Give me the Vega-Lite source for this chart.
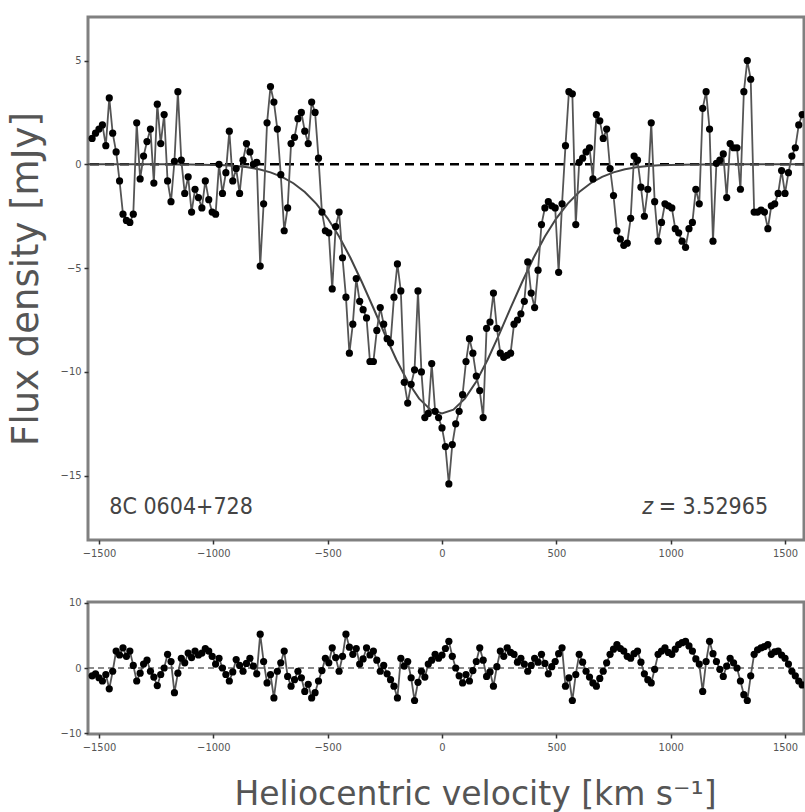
{
  "$schema": "https://vega.github.io/schema/vega-lite/v6.json",
  "padding": {"left": 5, "top": 15, "right": 0, "bottom": 0},
  "background": "white",
  "spacing": 35,
  "config": {
    "view": {"stroke": "#808080", "strokeWidth": 3},
    "axis": {
      "domain": false, "grid": false, "tickColor": "#333", "tickSize": 4, "tickWidth": 1.5,
      "labelFont": "DejaVu Sans Condensed, Liberation Sans Narrow, DejaVu Sans",
      "labelFontSize": 11, "labelColor": "#555", "labelPadding": 3, "format": "d",
      "titleFont": "DejaVu Sans", "titleFontWeight": "normal", "titleColor": "#555"
    }
  },
  "datasets": {
    "spec": [
      {"v":-1530,"f":1.25,"r":-1.2},{"v":-1515,"f":1.5,"r":-0.9},{"v":-1500,"f":1.7,"r":-1.5},{"v":-1485,"f":1.9,"r":-2.0},
      {"v":-1470,"f":0.9,"r":-1.0},{"v":-1455,"f":3.2,"r":-3.2},{"v":-1440,"f":1.5,"r":-0.5},{"v":-1425,"f":0.6,"r":2.6},
      {"v":-1410,"f":-0.8,"r":2.0},{"v":-1395,"f":-2.4,"r":3.1},{"v":-1380,"f":-2.7,"r":1.8},{"v":-1365,"f":-2.8,"r":2.6},
      {"v":-1350,"f":-2.4,"r":0.4},{"v":-1335,"f":2.0,"r":-2.0},{"v":-1320,"f":-0.7,"r":-0.8},{"v":-1305,"f":0.4,"r":0.6},
      {"v":-1290,"f":1.1,"r":1.2},{"v":-1275,"f":1.7,"r":-0.5},{"v":-1260,"f":-0.9,"r":-1.4},{"v":-1245,"f":2.9,"r":-2.7},
      {"v":-1230,"f":1.0,"r":-1.0},{"v":-1215,"f":2.4,"r":0.0},{"v":-1200,"f":-0.8,"r":2.1},{"v":-1185,"f":-1.8,"r":1.0},
      {"v":-1170,"f":0.15,"r":-3.8},{"v":-1155,"f":3.5,"r":-0.8},{"v":-1140,"f":0.2,"r":1.5},{"v":-1125,"f":-1.4,"r":0.8},
      {"v":-1110,"f":-0.6,"r":2.3},{"v":-1095,"f":-2.3,"r":1.6},{"v":-1080,"f":-1.2,"r":2.6},{"v":-1065,"f":-1.6,"r":2.0},
      {"v":-1050,"f":-2.1,"r":2.3},{"v":-1035,"f":-0.8,"r":3.0},{"v":-1020,"f":-1.7,"r":2.6},{"v":-1005,"f":-2.3,"r":1.8},
      {"v":-990,"f":-2.4,"r":0.6},{"v":-975,"f":0.0,"r":1.5},{"v":-960,"f":-1.4,"r":0.0},{"v":-945,"f":-0.4,"r":-1.0},
      {"v":-930,"f":1.6,"r":-2.0},{"v":-915,"f":-0.8,"r":-0.6},{"v":-900,"f":-0.2,"r":1.3},{"v":-885,"f":-1.4,"r":0.4},
      {"v":-870,"f":0.2,"r":-0.5},{"v":-855,"f":1.0,"r":0.7},{"v":-840,"f":0.6,"r":1.5},{"v":-825,"f":0.0,"r":0.3},
      {"v":-810,"f":0.1,"r":-0.9},{"v":-795,"f":-4.9,"r":5.2},{"v":-780,"f":-1.9,"r":1.0},{"v":-765,"f":2.0,"r":-2.3},
      {"v":-750,"f":3.75,"r":-1.0},{"v":-735,"f":3.0,"r":-4.6},{"v":-720,"f":1.7,"r":-0.5},{"v":-705,"f":-0.5,"r":0.8},
      {"v":-690,"f":-3.2,"r":2.6},{"v":-675,"f":-2.1,"r":-1.3},{"v":-660,"f":1.0,"r":-2.8},{"v":-645,"f":1.3,"r":-1.8},
      {"v":-630,"f":2.2,"r":-0.5},{"v":-615,"f":2.5,"r":-1.5},{"v":-600,"f":1.6,"r":-3.6},{"v":-585,"f":1.0,"r":-2.5},
      {"v":-570,"f":3.0,"r":-4.6},{"v":-555,"f":2.5,"r":-3.8},{"v":-540,"f":0.3,"r":-2.0},{"v":-525,"f":-2.3,"r":-0.4},
      {"v":-510,"f":-3.2,"r":1.5},{"v":-495,"f":-3.3,"r":0.8},{"v":-480,"f":-6.0,"r":3.1},{"v":-465,"f":-3.0,"r":1.6},
      {"v":-450,"f":-2.3,"r":-0.5},{"v":-435,"f":-4.5,"r":1.8},{"v":-420,"f":-6.4,"r":5.2},{"v":-405,"f":-9.1,"r":3.2},
      {"v":-390,"f":-7.7,"r":2.1},{"v":-375,"f":-5.5,"r":3.0},{"v":-360,"f":-6.6,"r":0.6},{"v":-345,"f":-7.0,"r":1.4},
      {"v":-330,"f":-7.4,"r":3.1},{"v":-315,"f":-9.5,"r":2.0},{"v":-300,"f":-9.5,"r":2.6},{"v":-285,"f":-8.0,"r":1.2},
      {"v":-270,"f":-6.9,"r":-0.5},{"v":-255,"f":-7.7,"r":0.4},{"v":-240,"f":-8.4,"r":-0.9},{"v":-225,"f":-8.6,"r":-1.8},
      {"v":-210,"f":-6.4,"r":-2.8},{"v":-195,"f":-4.8,"r":-4.6},{"v":-180,"f":-6.1,"r":1.5},{"v":-165,"f":-10.5,"r":0.3},
      {"v":-150,"f":-11.5,"r":1.0},{"v":-135,"f":-10.6,"r":-1.5},{"v":-120,"f":-9.9,"r":-5.0},{"v":-105,"f":-6.1,"r":-2.2},
      {"v":-90,"f":-10.0,"r":-0.5},{"v":-75,"f":-12.2,"r":-1.4},{"v":-60,"f":-12.0,"r":0.6},{"v":-45,"f":-9.6,"r":1.2},
      {"v":-30,"f":-11.9,"r":2.1},{"v":-15,"f":-12.2,"r":1.5},{"v":0,"f":-12.7,"r":2.0},{"v":15,"f":-13.6,"r":3.0},
      {"v":30,"f":-15.4,"r":4.1},{"v":45,"f":-13.5,"r":1.8},{"v":60,"f":-12.5,"r":0.0},{"v":75,"f":-11.9,"r":-1.2},
      {"v":90,"f":-11.1,"r":-2.3},{"v":105,"f":-9.5,"r":-1.0},{"v":120,"f":-8.4,"r":-2.0},{"v":135,"f":-9.1,"r":-0.4},
      {"v":150,"f":-10.2,"r":1.0},{"v":165,"f":-10.9,"r":3.1},{"v":180,"f":-12.2,"r":1.2},{"v":195,"f":-7.9,"r":-1.3},
      {"v":210,"f":-7.6,"r":-0.6},{"v":225,"f":-6.2,"r":-2.8},{"v":240,"f":-7.9,"r":0.2},{"v":255,"f":-9.1,"r":2.6},
      {"v":270,"f":-9.3,"r":1.8},{"v":285,"f":-9.2,"r":3.1},{"v":300,"f":-9.1,"r":2.4},{"v":315,"f":-7.7,"r":2.1},
      {"v":330,"f":-7.5,"r":0.9},{"v":345,"f":-7.2,"r":1.5},{"v":360,"f":-6.6,"r":0.6},{"v":375,"f":-4.7,"r":-0.5},
      {"v":390,"f":-6.2,"r":0.4},{"v":405,"f":-6.9,"r":1.5},{"v":420,"f":-5.1,"r":0.9},{"v":435,"f":-2.9,"r":2.1},
      {"v":450,"f":-2.1,"r":0.7},{"v":465,"f":-1.8,"r":-0.9},{"v":480,"f":-2.0,"r":0.2},{"v":495,"f":-2.1,"r":1.0},
      {"v":510,"f":-5.2,"r":2.2},{"v":525,"f":-1.9,"r":3.1},{"v":540,"f":0.9,"r":-2.8},{"v":555,"f":3.5,"r":-1.5},
      {"v":570,"f":3.4,"r":-5.0},{"v":585,"f":-2.9,"r":-1.0},{"v":600,"f":0.1,"r":2.1},{"v":615,"f":0.3,"r":0.9},
      {"v":630,"f":0.6,"r":-0.5},{"v":645,"f":0.8,"r":-1.4},{"v":660,"f":-0.7,"r":-2.3},{"v":675,"f":2.4,"r":-2.8},
      {"v":690,"f":2.1,"r":-1.6},{"v":705,"f":1.25,"r":-0.5},{"v":720,"f":1.7,"r":0.8},{"v":735,"f":-0.2,"r":2.1},
      {"v":750,"f":-1.5,"r":2.9},{"v":765,"f":-3.2,"r":3.6},{"v":780,"f":-3.6,"r":3.0},{"v":795,"f":-3.9,"r":2.6},
      {"v":810,"f":-3.8,"r":1.8},{"v":825,"f":-2.6,"r":1.5},{"v":840,"f":0.4,"r":2.2},{"v":855,"f":0.2,"r":2.6},
      {"v":870,"f":-1.1,"r":0.9},{"v":885,"f":-2.5,"r":-0.9},{"v":900,"f":-1.2,"r":-1.8},{"v":915,"f":2.0,"r":-2.3},
      {"v":930,"f":-1.8,"r":-0.2},{"v":945,"f":-3.7,"r":2.1},{"v":960,"f":-2.8,"r":2.6},{"v":975,"f":-1.9,"r":3.1},
      {"v":990,"f":-2.0,"r":2.4},{"v":1005,"f":-2.1,"r":2.1},{"v":1020,"f":-3.1,"r":2.9},{"v":1035,"f":-3.3,"r":3.6},
      {"v":1050,"f":-3.7,"r":3.9},{"v":1065,"f":-4.0,"r":4.1},{"v":1080,"f":-3.1,"r":3.4},{"v":1095,"f":-2.8,"r":2.6},
      {"v":1110,"f":-1.2,"r":1.4},{"v":1125,"f":-1.9,"r":0.6},{"v":1140,"f":2.7,"r":-3.6},{"v":1155,"f":3.5,"r":1.0},
      {"v":1170,"f":1.7,"r":4.1},{"v":1185,"f":-3.7,"r":2.2},{"v":1200,"f":0.05,"r":1.0},{"v":1215,"f":0.2,"r":-0.2},
      {"v":1230,"f":0.5,"r":-1.3},{"v":1245,"f":-1.6,"r":0.3},{"v":1260,"f":1.0,"r":1.5},{"v":1275,"f":0.8,"r":0.8},
      {"v":1290,"f":0.8,"r":0.0},{"v":1305,"f":-1.2,"r":-2.0},{"v":1320,"f":3.5,"r":-4.1},{"v":1335,"f":5.0,"r":-5.0},
      {"v":1350,"f":4.1,"r":-1.2},{"v":1365,"f":-2.3,"r":2.1},{"v":1380,"f":-2.3,"r":2.8},{"v":1395,"f":-2.2,"r":3.1},
      {"v":1410,"f":-2.3,"r":3.3},{"v":1425,"f":-3.1,"r":3.6},{"v":1440,"f":-2.0,"r":2.1},{"v":1455,"f":-1.9,"r":2.5},
      {"v":1470,"f":-1.4,"r":2.6},{"v":1485,"f":-0.3,"r":2.0},{"v":1500,"f":-1.4,"r":1.5},{"v":1515,"f":-0.4,"r":0.6},
      {"v":1530,"f":0.4,"r":-0.5},{"v":1545,"f":0.8,"r":-1.2},{"v":1560,"f":1.9,"r":-2.0},{"v":1575,"f":2.4,"r":-2.6}
    ],
    "model": [
      {"v":-1550,"m":0},{"v":-1500,"m":0},{"v":-1450,"m":0},{"v":-1400,"m":0},{"v":-1350,"m":0},{"v":-1300,"m":0},
      {"v":-1250,"m":0},{"v":-1200,"m":0},{"v":-1150,"m":-0.003},{"v":-1100,"m":-0.007},{"v":-1050,"m":-0.014},
      {"v":-1000,"m":-0.03},{"v":-950,"m":-0.048},{"v":-900,"m":-0.085},{"v":-850,"m":-0.145},{"v":-800,"m":-0.24},
      {"v":-750,"m":-0.385},{"v":-700,"m":-0.6},{"v":-650,"m":-0.91},{"v":-600,"m":-1.33},{"v":-550,"m":-1.89},
      {"v":-500,"m":-2.6},{"v":-450,"m":-3.48},{"v":-400,"m":-4.51},{"v":-350,"m":-5.68},{"v":-300,"m":-6.92},
      {"v":-250,"m":-8.19},{"v":-200,"m":-9.4},{"v":-150,"m":-10.46},{"v":-100,"m":-11.29},{"v":-50,"m":-11.82},
      {"v":0,"m":-12.0},
      {"v":50,"m":-11.82},{"v":100,"m":-11.29},{"v":150,"m":-10.46},{"v":200,"m":-9.4},{"v":250,"m":-8.19},
      {"v":300,"m":-6.92},{"v":350,"m":-5.68},{"v":400,"m":-4.51},{"v":450,"m":-3.48},{"v":500,"m":-2.6},
      {"v":550,"m":-1.89},{"v":600,"m":-1.33},{"v":650,"m":-0.91},{"v":700,"m":-0.6},{"v":750,"m":-0.385},
      {"v":800,"m":-0.24},{"v":850,"m":-0.145},{"v":900,"m":-0.085},{"v":950,"m":-0.048},{"v":1000,"m":-0.03},
      {"v":1050,"m":-0.014},{"v":1100,"m":-0.007},{"v":1150,"m":-0.003},{"v":1200,"m":0},{"v":1250,"m":0},
      {"v":1300,"m":0},{"v":1350,"m":0},{"v":1400,"m":0},{"v":1450,"m":0},{"v":1500,"m":0},{"v":1550,"m":0},{"v":1600,"m":0}
    ]
  },
  "vconcat": [
    {
      "width": 716,
      "height": 523,
      "encoding": {
        "x": {"type": "quantitative", "scale": {"domain": [-1548, 1583], "nice": false, "zero": false},
              "axis": {"values": [-1500, -1000, -500, 0, 500, 1000, 1500], "title": null}},
        "y": {"type": "quantitative", "scale": {"domain": [-18.1, 7.1], "nice": false, "zero": false},
              "axis": {"values": [-15, -10, -5, 0, 5], "title": "Flux density [mJy]", "titleFontSize": 37, "titlePadding": 15}}
      },
      "layer": [
        {
          "data": {"values": [{}]},
          "mark": {"type": "rule", "color": "black", "strokeWidth": 2.5, "strokeDash": [9, 6]},
          "encoding": {"y": {"datum": 0, "type": "quantitative"}}
        },
        {
          "data": {"name": "model"},
          "mark": {"type": "line", "color": "#444", "strokeWidth": 2, "clip": true},
          "encoding": {"x": {"field": "v"}, "y": {"field": "m"}}
        },
        {
          "data": {"name": "spec"},
          "mark": {"type": "line", "color": "#555", "strokeWidth": 1.8, "clip": true},
          "encoding": {"x": {"field": "v"}, "y": {"field": "f"}}
        },
        {
          "data": {"name": "spec"},
          "mark": {"type": "circle", "color": "black", "size": 52, "opacity": 1, "clip": true},
          "encoding": {"x": {"field": "v"}, "y": {"field": "f"}}
        },
        {
          "data": {"values": [{}]},
          "mark": {"type": "text", "text": "8C 0604+728", "align": "left", "baseline": "middle", "fontSize": 23, "color": "#444",
                   "font": "DejaVu Sans Condensed, Liberation Sans Narrow, DejaVu Sans"},
          "encoding": {"x": {"datum": -1455, "type": "quantitative"}, "y": {"datum": -16.5, "type": "quantitative"}}
        },
        {
          "data": {"values": [{}]},
          "mark": {"type": "text", "text": "= 3.52965", "align": "right", "baseline": "middle", "fontSize": 23, "color": "#444",
                   "font": "DejaVu Sans Condensed, Liberation Sans Narrow, DejaVu Sans"},
          "encoding": {"x": {"datum": 1426, "type": "quantitative"}, "y": {"datum": -16.5, "type": "quantitative"}}
        },
        {
          "data": {"values": [{}]},
          "mark": {"type": "text", "text": "z", "align": "center", "baseline": "middle", "fontSize": 23, "fontStyle": "italic", "color": "#444",
                   "font": "DejaVu Sans Condensed, Liberation Sans Narrow, DejaVu Sans"},
          "encoding": {"x": {"datum": 900, "type": "quantitative"}, "y": {"datum": -16.5, "type": "quantitative"}}
        }
      ]
    },
    {
      "width": 716,
      "height": 132,
      "data": {"name": "spec"},
      "encoding": {
        "x": {"field": "v", "type": "quantitative", "scale": {"domain": [-1548, 1583], "nice": false, "zero": false},
              "axis": {"values": [-1500, -1000, -500, 0, 500, 1000, 1500], "title": "Heliocentric velocity [km s⁻¹]",
                       "titleFontSize": 33, "titlePadding": 26, "titleX": 387}},
        "y": {"type": "quantitative", "scale": {"domain": [-10.15, 10.15], "nice": false, "zero": false},
              "axis": {"values": [-10, 0, 10], "title": null}}
      },
      "layer": [
        {
          "data": {"values": [{}]},
          "mark": {"type": "rule", "color": "#666", "strokeWidth": 1.5, "strokeDash": [6, 4]},
          "encoding": {"x": null, "y": {"datum": 0, "type": "quantitative"}}
        },
        {
          "mark": {"type": "line", "color": "#555", "strokeWidth": 1.8, "clip": true},
          "encoding": {"y": {"field": "r"}}
        },
        {
          "mark": {"type": "circle", "color": "black", "size": 52, "opacity": 1, "clip": true},
          "encoding": {"y": {"field": "r"}}
        }
      ]
    }
  ]
}
